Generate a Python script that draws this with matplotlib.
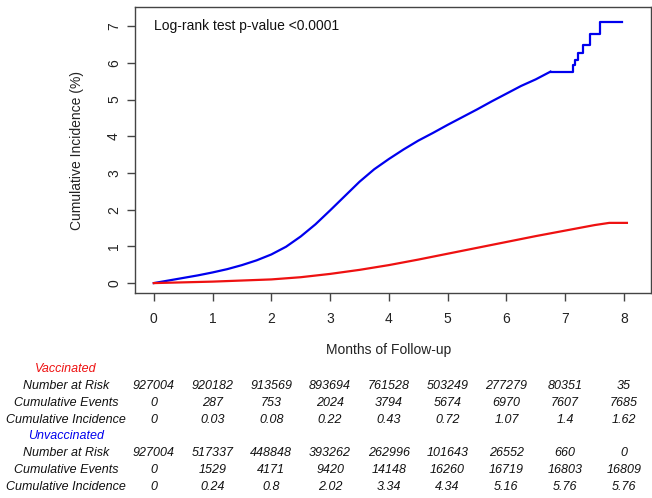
import matplotlib
matplotlib.use("Agg")
import matplotlib.pyplot as plt
import matplotlib.transforms as mtransforms

plt.rcParams['font.family'] = ['Liberation Sans', 'DejaVu Sans']

# curve data (months, cumulative incidence %)
unvacc_months = [0, 0.25, 0.5, 0.75, 1, 1.25, 1.5, 1.75, 2, 2.25, 2.5, 2.75, 3, 3.25,
                 3.5, 3.75, 4, 4.25, 4.5, 4.75, 5, 5.25, 5.5, 5.75, 6, 6.25, 6.5, 6.75]
unvacc_inc = [0, 0.07, 0.14, 0.21, 0.29, 0.38, 0.49, 0.62, 0.78, 0.99, 1.27, 1.6, 1.98, 2.37,
              2.76, 3.1, 3.38, 3.64, 3.88, 4.09, 4.31, 4.52, 4.73, 4.95, 5.16, 5.37, 5.55, 5.76]
# late steps of the unvaccinated curve
unvacc_tail_months = [6.75, 7.13, 7.17, 7.21, 7.31, 7.43, 7.60, 7.97]
unvacc_tail_inc = [5.76, 5.93, 6.08, 6.26, 6.49, 6.78, 7.12, 7.12]

vacc_months = [0, 0.5, 1, 1.5, 2, 2.5, 3, 3.5, 4, 4.5, 5, 5.5, 6, 6.5, 7, 7.5, 7.75, 8.05]
vacc_inc = [0, 0.02, 0.04, 0.07, 0.1, 0.16, 0.25, 0.36, 0.49, 0.64, 0.8, 0.96, 1.12,
            1.28, 1.43, 1.58, 1.64, 1.64]

# risk table
table_months = [0, 1, 2, 3, 4, 5, 6, 7, 8]
vacc_risk = ["927004", "920182", "913569", "893694", "761528", "503249", "277279", "80351", "35"]
vacc_events = ["0", "287", "753", "2024", "3794", "5674", "6970", "7607", "7685"]
vacc_cuminc = ["0", "0.03", "0.08", "0.22", "0.43", "0.72", "1.07", "1.4", "1.62"]
unvacc_risk = ["927004", "517337", "448848", "393262", "262996", "101643", "26552", "660", "0"]
unvacc_events = ["0", "1529", "4171", "9420", "14148", "16260", "16719", "16803", "16809"]
unvacc_cuminc = ["0", "0.24", "0.8", "2.02", "3.34", "4.34", "5.16", "5.76", "5.76"]

fig = plt.figure(figsize=(6.52, 4.98), dpi=100)
ax = fig.add_axes([135/652, 1 - 293/498, 516/652, 286/498])

blue = '#0000ee'
red = '#ee1111'
ax.plot(unvacc_months, unvacc_inc, color=blue, lw=1.6)
ax.plot(unvacc_tail_months, unvacc_tail_inc, color=blue, lw=1.6, drawstyle='steps-post')
ax.plot(vacc_months, vacc_inc, color=red, lw=1.6)

ax.set_xlim(-0.32, 8.46)
ax.set_ylim(-0.27, 7.52)
ax.set_xticks(range(0, 9))
ax.set_yticks(range(0, 8))
for s in ax.spines.values():
    s.set_color('#444444')
    s.set_linewidth(1.0)
ax.tick_params(axis='both', colors='#444444', labelcolor='#222222', labelsize=10,
               length=6, width=1.0)
ax.tick_params(axis='x', pad=8)
ax.tick_params(axis='y', labelrotation=90, pad=4)
for lab in ax.get_yticklabels():
    lab.set_va('center')

ax.set_xlabel('Months of Follow-up', fontsize=10, color='#222222')
ax.xaxis.set_label_coords(0.492, -0.175)
ax.set_ylabel('Cumulative Incidence (%)', fontsize=10, color='#222222')
ax.yaxis.set_label_coords(-0.112, 0.5)
ax.yaxis.label.set_va('center')

ax.text(0.0, 7.0, 'Log-rank test p-value <0.0001', fontsize=10, color='#111111',
        ha='left', va='center')

# risk table below the plot
trans = mtransforms.blended_transform_factory(ax.transData, fig.transFigure)
rows = [
    ('Vaccinated', None, red),
    ('Number at Risk', vacc_risk, '#111111'),
    ('Cumulative Events', vacc_events, '#111111'),
    ('Cumulative Incidence', vacc_cuminc, '#111111'),
    ('Unvaccinated', None, blue),
    ('Number at Risk', unvacc_risk, '#111111'),
    ('Cumulative Events', unvacc_events, '#111111'),
    ('Cumulative Incidence', unvacc_cuminc, '#111111'),
]
row_y = [369, 386, 403, 420, 436, 453, 470, 487]
for (label, vals, col), py in zip(rows, row_y):
    fy = 1 - py / 498
    fig.text(66/652, fy, label, fontsize=9, style='italic', color=col,
             ha='center', va='center')
    if vals is None:
        continue
    for m, v in zip(table_months, vals):
        ax.text(m, fy, v, transform=trans, fontsize=9, style='italic',
                color='#111111', ha='center', va='center', clip_on=False)

fig.savefig('out.png', dpi=100)
